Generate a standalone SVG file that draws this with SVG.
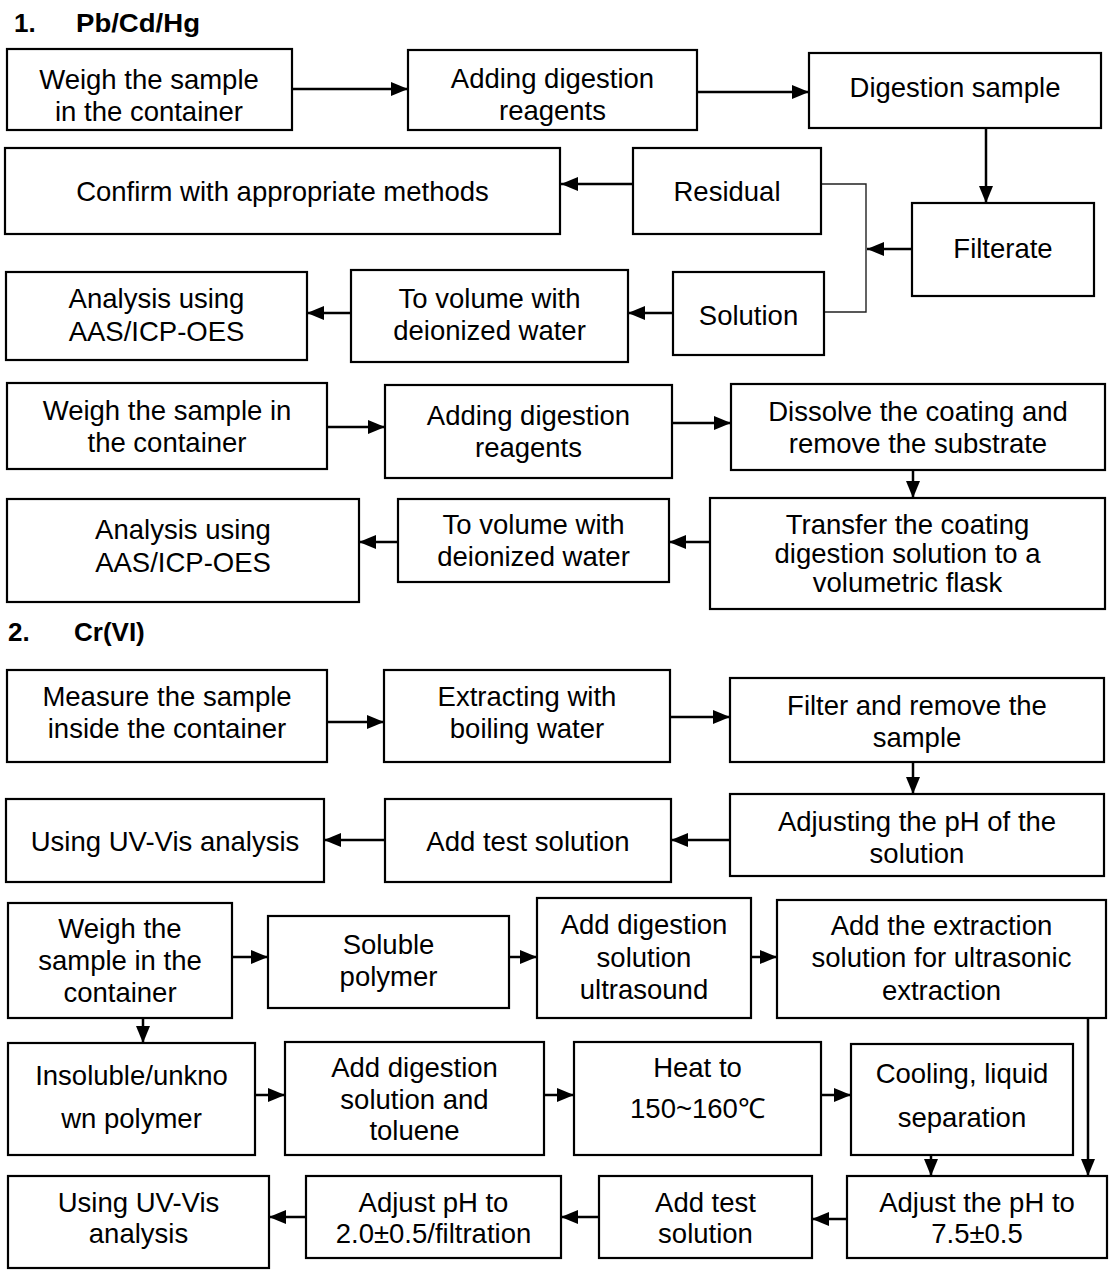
<svg xmlns="http://www.w3.org/2000/svg" width="1113" height="1275" viewBox="0 0 1113 1275">
<style>
.b{fill:#fff;stroke:#000;stroke-width:2.2}
text{font-family:"Liberation Sans",Arial,sans-serif;font-size:27.5px;fill:#000;text-anchor:middle}
text.h{font-weight:bold;font-size:26px;text-anchor:start}
.c{stroke:#000;stroke-width:2.5;fill:none;marker-end:url(#ah)}
.t{stroke:#222;stroke-width:1.4;fill:none}
</style>
<defs>
<marker id="ah" markerUnits="userSpaceOnUse" viewBox="0 0 17 14" markerWidth="17" markerHeight="14" refX="17" refY="7" orient="auto">
<path d="M0,0 L17,7 L0,14 z" fill="#000"/>
</marker>
</defs>
<rect width="1113" height="1275" fill="#fff"/>
<g id="headers">
<text class="h" x="14" y="32">1.</text><text class="h" x="76" y="32" textLength="124" lengthAdjust="spacingAndGlyphs">Pb/Cd/Hg</text>
<text class="h" x="8" y="641">2.</text><text class="h" x="74" y="641">Cr(VI)</text>
</g>
<g id="connectors">
<line class="c" x1="291" y1="89" x2="408" y2="89"/>
<line class="c" x1="697" y1="92" x2="809" y2="92"/>
<line class="c" x1="986" y1="128" x2="986" y2="203"/>
<line class="c" x1="633" y1="184" x2="561" y2="184"/>
<polyline class="t" points="821,184 866,184 866,312 824,312"/>
<line class="c" x1="912" y1="249" x2="867" y2="249"/>
<line class="c" x1="673" y1="313" x2="628" y2="313"/>
<line class="c" x1="351" y1="313" x2="307" y2="313"/>
<line class="c" x1="327" y1="427" x2="385" y2="427"/>
<line class="c" x1="672" y1="423" x2="731" y2="423"/>
<line class="c" x1="913" y1="470" x2="913" y2="498"/>
<line class="c" x1="710" y1="542" x2="669" y2="542"/>
<line class="c" x1="398" y1="542" x2="359" y2="542"/>
<line class="c" x1="327" y1="722" x2="384" y2="722"/>
<line class="c" x1="670" y1="717" x2="730" y2="717"/>
<line class="c" x1="913" y1="762" x2="913" y2="794"/>
<line class="c" x1="730" y1="840" x2="671" y2="840"/>
<line class="c" x1="385" y1="840" x2="324" y2="840"/>
<line class="c" x1="232" y1="957" x2="268" y2="957"/>
<line class="c" x1="509" y1="957" x2="537" y2="957"/>
<line class="c" x1="751" y1="957" x2="777" y2="957"/>
<line class="c" x1="143" y1="1018" x2="143" y2="1043"/>
<line class="c" x1="255" y1="1095" x2="285" y2="1095"/>
<line class="c" x1="544" y1="1095" x2="574" y2="1095"/>
<line class="c" x1="821" y1="1095" x2="851" y2="1095"/>
<line class="c" x1="931" y1="1155" x2="931" y2="1176"/>
<line class="c" x1="1088" y1="1018" x2="1088" y2="1176"/>
<line class="c" x1="847" y1="1219" x2="812" y2="1219"/>
<line class="c" x1="599" y1="1217" x2="561" y2="1217"/>
<line class="c" x1="306" y1="1217" x2="269" y2="1217"/>
</g>
<g id="A1"><rect class="b" x="7" y="49" width="285" height="81"/><text x="149" y="89">Weigh the sample</text><text x="149" y="121">in the container</text></g>
<g id="A2"><rect class="b" x="408" y="50" width="289" height="80"/><text x="552.5" y="88">Adding digestion</text><text x="552.5" y="120">reagents</text></g>
<g id="A3"><rect class="b" x="809" y="53" width="292" height="75"/><text x="955" y="97">Digestion sample</text></g>
<g id="Confirm"><rect class="b" x="5" y="148" width="555" height="86"/><text x="282.5" y="201">Confirm with appropriate methods</text></g>
<g id="Residual"><rect class="b" x="633" y="148" width="188" height="86"/><text x="727" y="201">Residual</text></g>
<g id="Filterate"><rect class="b" x="912" y="203" width="182" height="93"/><text x="1003" y="258">Filterate</text></g>
<g id="Solution"><rect class="b" x="673" y="272" width="151" height="83"/><text x="748.5" y="325">Solution</text></g>
<g id="ToVolume1"><rect class="b" x="351" y="270" width="277" height="92"/><text x="489.5" y="308">To volume with</text><text x="489.5" y="340">deionized water</text></g>
<g id="Analysis1"><rect class="b" x="6" y="272" width="301" height="88"/><text x="156.5" y="308">Analysis using</text><text x="156.5" y="341">AAS/ICP-OES</text></g>
<g id="B1"><rect class="b" x="7" y="383" width="320" height="86"/><text x="167" y="420">Weigh the sample in</text><text x="167" y="452">the container</text></g>
<g id="B2"><rect class="b" x="385" y="385" width="287" height="93"/><text x="528.5" y="425">Adding digestion</text><text x="528.5" y="457">reagents</text></g>
<g id="B3"><rect class="b" x="731" y="384" width="374" height="86"/><text x="918" y="421">Dissolve the coating and</text><text x="918" y="453">remove the substrate</text></g>
<g id="B4"><rect class="b" x="710" y="498" width="395" height="111"/><text x="907.5" y="534">Transfer the coating</text><text x="907.5" y="563">digestion solution to a</text><text x="907.5" y="592">volumetric flask</text></g>
<g id="B5"><rect class="b" x="398" y="499" width="271" height="83"/><text x="533.5" y="534">To volume with</text><text x="533.5" y="566">deionized water</text></g>
<g id="B6"><rect class="b" x="7" y="499" width="352" height="103"/><text x="183" y="539">Analysis using</text><text x="183" y="572">AAS/ICP-OES</text></g>
<g id="C1"><rect class="b" x="7" y="670" width="320" height="92"/><text x="167" y="706">Measure the sample</text><text x="167" y="738">inside the container</text></g>
<g id="C2"><rect class="b" x="384" y="670" width="286" height="92"/><text x="527" y="706">Extracting with</text><text x="527" y="738">boiling water</text></g>
<g id="C3"><rect class="b" x="730" y="678" width="374" height="84"/><text x="917" y="715">Filter and remove the</text><text x="917" y="747">sample</text></g>
<g id="C4"><rect class="b" x="730" y="794" width="374" height="82"/><text x="917" y="831">Adjusting the pH of the</text><text x="917" y="863">solution</text></g>
<g id="C5"><rect class="b" x="385" y="799" width="286" height="83"/><text x="528" y="851">Add test solution</text></g>
<g id="C6"><rect class="b" x="6" y="799" width="318" height="83"/><text x="165" y="851">Using UV-Vis analysis</text></g>
<g id="D1"><rect class="b" x="8" y="903" width="224" height="115"/><text x="120" y="938">Weigh the</text><text x="120" y="970">sample in the</text><text x="120" y="1002">container</text></g>
<g id="D2"><rect class="b" x="268" y="916" width="241" height="92"/><text x="388.5" y="954">Soluble</text><text x="388.5" y="986">polymer</text></g>
<g id="D3"><rect class="b" x="537" y="898" width="214" height="120"/><text x="644" y="934">Add digestion</text><text x="644" y="967">solution</text><text x="644" y="999">ultrasound</text></g>
<g id="D4"><rect class="b" x="777" y="900" width="329" height="118"/><text x="941.5" y="935">Add the extraction</text><text x="941.5" y="967">solution for ultrasonic</text><text x="941.5" y="1000">extraction</text></g>
<g id="D5"><rect class="b" x="8" y="1043" width="247" height="112"/><text x="131.5" y="1085">Insoluble/unkno</text><text x="131.5" y="1128">wn polymer</text></g>
<g id="D6"><rect class="b" x="285" y="1042" width="259" height="113"/><text x="414.5" y="1077">Add digestion</text><text x="414.5" y="1109">solution and</text><text x="414.5" y="1140">toluene</text></g>
<g id="D7"><rect class="b" x="574" y="1042" width="247" height="113"/><text x="697.5" y="1077">Heat to</text><text x="697.5" y="1118">150~160℃</text></g>
<g id="D8"><rect class="b" x="851" y="1044" width="222" height="111"/><text x="962" y="1083">Cooling, liquid</text><text x="962" y="1127">separation</text></g>
<g id="E1"><rect class="b" x="8" y="1176" width="261" height="92"/><text x="138.5" y="1212">Using UV-Vis</text><text x="138.5" y="1243">analysis</text></g>
<g id="E2"><rect class="b" x="306" y="1176" width="255" height="82"/><text x="433.5" y="1212">Adjust pH to</text><text x="433.5" y="1243">2.0±0.5/filtration</text></g>
<g id="E3"><rect class="b" x="599" y="1176" width="213" height="82"/><text x="705.5" y="1212">Add test</text><text x="705.5" y="1243">solution</text></g>
<g id="E4"><rect class="b" x="847" y="1176" width="260" height="82"/><text x="977" y="1212">Adjust the pH to</text><text x="977" y="1243">7.5±0.5</text></g>
</svg>
